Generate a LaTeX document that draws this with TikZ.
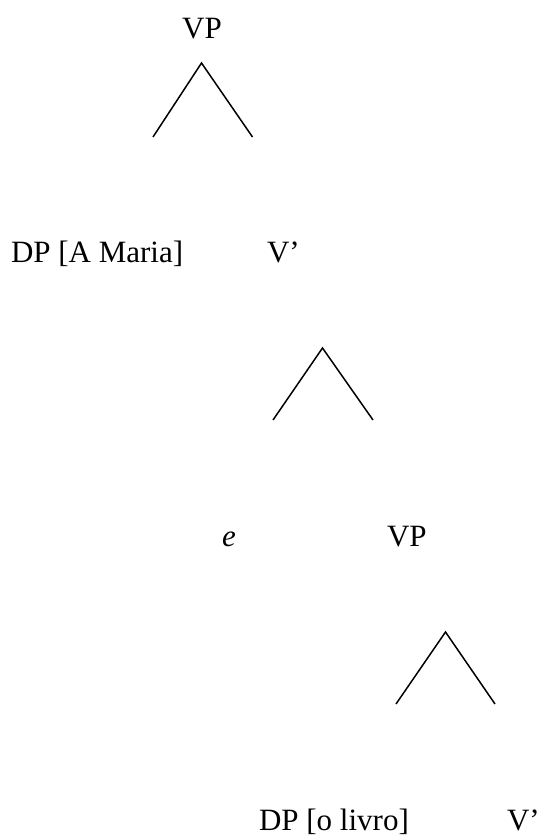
\documentclass[tikz,border=0pt]{standalone}
\usepackage{fontspec}
\setmainfont{Liberation Serif}
\begin{document}
\begin{tikzpicture}[x=1pt,y=-1pt,
  lbl/.style={inner sep=0pt,outer sep=0pt,font=\fontsize{31}{36}\selectfont},
  branch/.style={line width=1.5pt,line join=miter}]
\useasboundingbox (0,0) rectangle (540,836);
% labels
\node[lbl,anchor=base] (vp1) at (202,38) {VP};
\node[lbl,anchor=base west] (dp1) at (11,262) {DP [A Maria]};
\node[lbl,anchor=base west] (vb1) at (267,262) {V’};
\node[lbl,anchor=base west] (e) at (222,546) {\itshape e};
\node[lbl,anchor=base west] (vp2) at (387,546) {VP};
\node[lbl,anchor=base west] (dp2) at (259,830) {DP [o livro]};
\node[lbl,anchor=base west] (vb2) at (507,830) {V’};
% branch coordinates
\coordinate (a1) at (201.5,63);
\coordinate (l1) at (153,137);
\coordinate (r1) at (252.5,137);
\coordinate (a2) at (322.5,348);
\coordinate (l2) at (273,420);
\coordinate (r2) at (373,420);
\coordinate (a3) at (445.5,632);
\coordinate (l3) at (396,704);
\coordinate (r3) at (495,704);
\draw[branch] (l1) -- (a1) -- (r1);
\draw[branch] (l2) -- (a2) -- (r2);
\draw[branch] (l3) -- (a3) -- (r3);
\end{tikzpicture}
\end{document}
